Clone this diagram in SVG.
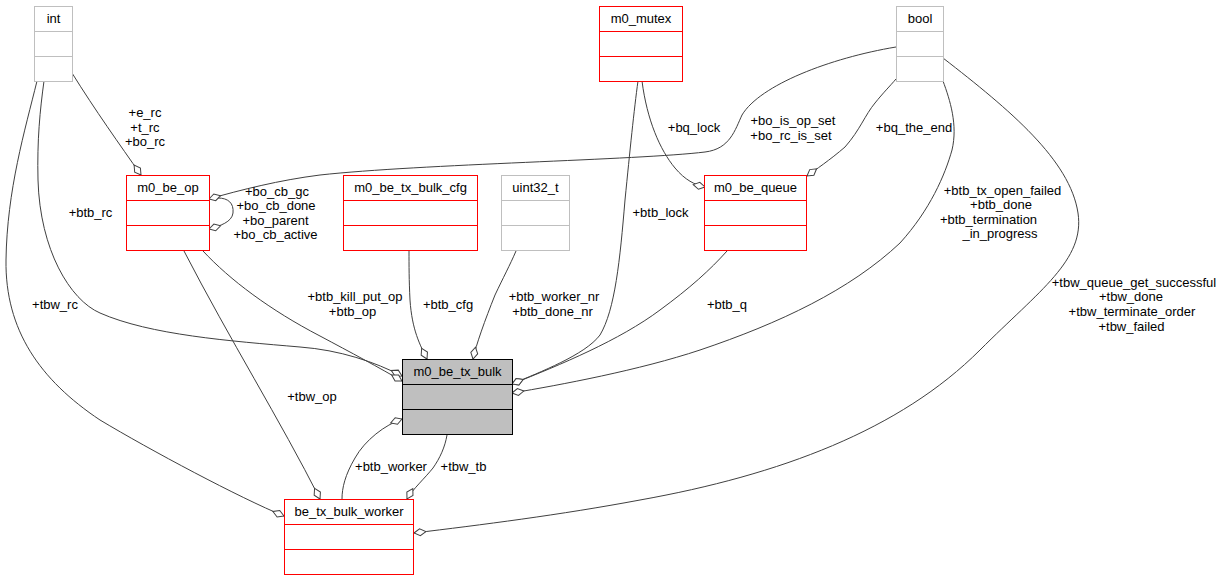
<svg xmlns="http://www.w3.org/2000/svg" width="1223" height="581" viewBox="0 0 1223 581">
<style>
text{font-family:"Liberation Sans",Arial,Helvetica,sans-serif;font-size:13px;fill:#000;text-anchor:middle}
.gray rect{fill:#fff;stroke:#bfbfbf;stroke-width:1}
.gray line{stroke:#bfbfbf;stroke-width:1}
.red rect{fill:#fff;stroke:#ff0000;stroke-width:1}
.red line{stroke:#ff0000;stroke-width:1}
.main rect{fill:#bfbfbf;stroke:#000;stroke-width:1}
.main line{stroke:#000;stroke-width:1}
.edge{fill:none;stroke:#404040;stroke-width:1;marker-start:url(#od)}
</style>
<defs>
<marker id="od" markerUnits="userSpaceOnUse" markerWidth="14" markerHeight="10" refX="0" refY="0" orient="auto" overflow="visible">
<path d="M0,0 L6,-3.5 L12,0 L6,3.5 Z" fill="#fff" stroke="#404040" stroke-width="1"/>
</marker>
</defs>
<rect width="1223" height="581" fill="#fff"/>
<g id="connectors">
<path class="edge" d="M141,175 C120,145 95,110 72,73"/>
<path class="edge" d="M402,376 C375,362 340,350 300,347 C230,341 150,335 100,313 C70,300 40,250 38,180 C37,140 40,110 44,81"/>
<path class="edge" d="M284,516 C240,498 150,450 100,420 C40,380 5,330 6,260 C7,190 25,130 37,81"/>
<path class="edge" d="M209,229 C220,226 232,222 233,213 C234,203 228,198 218,198"/>
<path class="edge" d="M209,199 C240,190 280,180 320,175 C420,164 640,160 705,152 C730,149 735,130 742,115 C760,85 830,58 896,47"/>
<path class="edge" d="M402,381 C380,368 350,352 320,336 C270,310 230,280 203,251"/>
<path class="edge" d="M320,499 C280,420 230,340 184,251"/>
<path class="edge" d="M427,359 C420,345 412,330 410,300 C409,280 409,265 409,251"/>
<path class="edge" d="M473,359 C476,345 485,320 495,295 C503,278 510,265 516,251"/>
<path class="edge" d="M512,384 C540,372 585,355 600,335 C615,310 620,260 625,200 C630,150 634,110 638,81"/>
<path class="edge" d="M705,187 C695,185 685,180 675,168 C660,150 647,120 642,81"/>
<path class="edge" d="M807,176 C815,170 830,160 845,147 C860,130 865,115 875,103 C883,93 890,86 896,79"/>
<path class="edge" d="M512,384 C560,365 620,340 660,310 C690,288 710,270 727,251"/>
<path class="edge" d="M512,393 C560,385 640,370 700,350 C780,323 850,290 900,243 C930,210 945,175 952,150 C958,125 950,100 943,81"/>
<path class="edge" d="M414,533 C480,525 560,515 640,500 C780,475 900,430 980,350 C1040,290 1085,260 1078,213 C1070,160 1010,110 943,58"/>
<path class="edge" d="M402,419 C385,425 365,440 355,458 C345,475 342,488 342,499"/>
<path class="edge" d="M407,499 C412,490 425,478 433,468 C440,458 445,447 447,435"/>
<text x="145" y="117">+e_rc</text>
<text x="145" y="131.5">+t_rc</text>
<text x="145" y="146">+bo_rc</text>
<text x="90.5" y="217">+btb_rc</text>
<text x="55" y="308.5">+tbw_rc</text>
<text x="277" y="195.5">+bo_cb_gc</text>
<text x="276" y="210">+bo_cb_done</text>
<text x="275.5" y="224.5">+bo_parent</text>
<text x="275.5" y="239">+bo_cb_active</text>
<text x="793" y="125">+bo_is_op_set</text>
<text x="791" y="139.5">+bo_rc_is_set</text>
<text x="694" y="131.5">+bq_lock</text>
<text x="914" y="131.5">+bq_the_end</text>
<text x="660.5" y="216.5">+btb_lock</text>
<text x="1002.5" y="195">+btb_tx_open_failed</text>
<text x="1001" y="209">+btb_done</text>
<text x="988.5" y="223.5">+btb_termination</text>
<text x="1000" y="238">_in_progress</text>
<text x="1134" y="287">+tbw_queue_get_successful</text>
<text x="1131" y="301">+tbw_done</text>
<text x="1132" y="316">+tbw_terminate_order</text>
<text x="1131.5" y="330.5">+tbw_failed</text>
<text x="355" y="301">+btb_kill_put_op</text>
<text x="352.5" y="315.5">+btb_op</text>
<text x="448" y="309">+btb_cfg</text>
<text x="554" y="301">+btb_worker_nr</text>
<text x="552.5" y="315.5">+btb_done_nr</text>
<text x="727" y="309">+btb_q</text>
<text x="312" y="400.5">+tbw_op</text>
<text x="391" y="470.5">+btb_worker</text>
<text x="463.5" y="470.5">+tbw_tb</text>
</g>
<g id="node-int" class="gray">
<rect x="34.5" y="6.5" width="38" height="75"/>
<line x1="34.5" y1="31.5" x2="72.5" y2="31.5"/>
<line x1="34.5" y1="56.5" x2="72.5" y2="56.5"/>
<text x="53.5" y="22.5">int</text>
</g>
<g id="node-m0_mutex" class="red">
<rect x="599.5" y="6.5" width="83" height="75"/>
<line x1="599.5" y1="31.5" x2="682.5" y2="31.5"/>
<line x1="599.5" y1="56.5" x2="682.5" y2="56.5"/>
<text x="641" y="22.5">m0_mutex</text>
</g>
<g id="node-bool" class="gray">
<rect x="896.5" y="6.5" width="47" height="75"/>
<line x1="896.5" y1="31.5" x2="943.5" y2="31.5"/>
<line x1="896.5" y1="56.5" x2="943.5" y2="56.5"/>
<text x="920" y="22.5">bool</text>
</g>
<g id="node-m0_be_op" class="red">
<rect x="126.5" y="175.5" width="83" height="75"/>
<line x1="126.5" y1="200.5" x2="209.5" y2="200.5"/>
<line x1="126.5" y1="225.5" x2="209.5" y2="225.5"/>
<text x="168" y="191.5">m0_be_op</text>
</g>
<g id="node-m0_be_tx_bulk_cfg" class="red">
<rect x="343.5" y="175.5" width="134" height="75"/>
<line x1="343.5" y1="200.5" x2="477.5" y2="200.5"/>
<line x1="343.5" y1="225.5" x2="477.5" y2="225.5"/>
<text x="410.5" y="191.5">m0_be_tx_bulk_cfg</text>
</g>
<g id="node-uint32_t" class="gray">
<rect x="501.5" y="175.5" width="68" height="75"/>
<line x1="501.5" y1="200.5" x2="569.5" y2="200.5"/>
<line x1="501.5" y1="225.5" x2="569.5" y2="225.5"/>
<text x="535.5" y="191.5">uint32_t</text>
</g>
<g id="node-m0_be_queue" class="red">
<rect x="704.5" y="175.5" width="102" height="75"/>
<line x1="704.5" y1="200.5" x2="806.5" y2="200.5"/>
<line x1="704.5" y1="225.5" x2="806.5" y2="225.5"/>
<text x="755.5" y="191.5">m0_be_queue</text>
</g>
<g id="node-m0_be_tx_bulk" class="main">
<rect x="402.5" y="359.5" width="110" height="75"/>
<line x1="402.5" y1="384.5" x2="512.5" y2="384.5"/>
<line x1="402.5" y1="409.5" x2="512.5" y2="409.5"/>
<text x="457.5" y="375.5">m0_be_tx_bulk</text>
</g>
<g id="node-be_tx_bulk_worker" class="red">
<rect x="284.5" y="499.5" width="129" height="75"/>
<line x1="284.5" y1="524.5" x2="413.5" y2="524.5"/>
<line x1="284.5" y1="549.5" x2="413.5" y2="549.5"/>
<text x="349" y="515.5">be_tx_bulk_worker</text>
</g>
</svg>
